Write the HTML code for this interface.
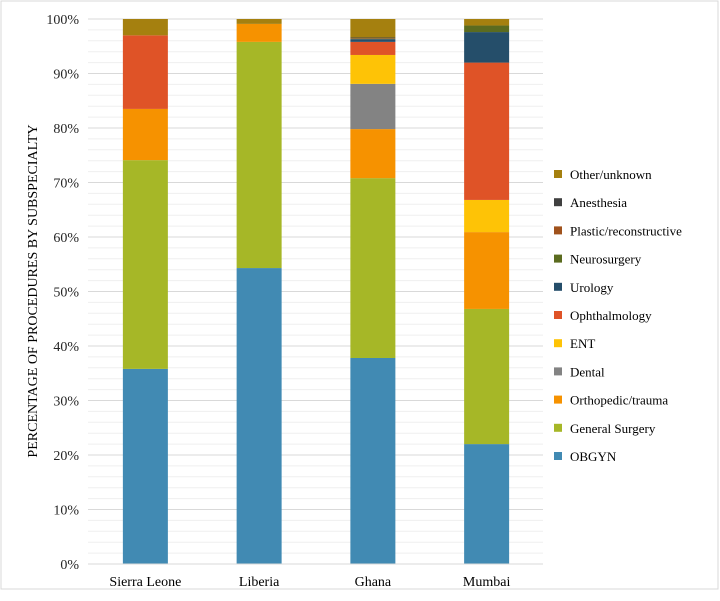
<!DOCTYPE html>
<html><head><meta charset="utf-8"><style>
body{margin:0;background:#fff;}
svg{display:block;font-family:"Liberation Serif",serif;}
</style></head><body>
<svg id="chart" width="720" height="601">
<rect x="1" y="1" width="717" height="588" fill="#fff" stroke="#d9d9d9"/>
<g id="grid"></g><g id="bars"></g><g id="axis"></g><g id="legend"></g>
<text transform="translate(37,291) rotate(-90)" text-anchor="middle" font-size="14" fill="#000">PERCENTAGE OF PROCEDURES BY SUBSPECIALTY</text>
</svg>
<script>
const categories=["Sierra Leone","Liberia","Ghana","Mumbai"];
const seriesNames=["OBGYN","General Surgery","Orthopedic/trauma","Dental","ENT","Ophthalmology","Urology","Neurosurgery","Plastic/reconstructive","Anesthesia","Other/unknown"];
const colors=["#418ab3","#a6b727","#f69200","#838383","#fec306","#df5327","#254e6a","#5b6b1f","#a0521c","#404040","#a5800f"];
const obgyn=[35.8,54.3,37.8,22.0];
const generalSurgery=[38.3,41.5,33.0,24.8];
const ortho=[9.4,3.3,9.0,14.1];
const dental=[0,0,8.3,0];
const ent=[0,0,5.3,5.9];
const ophth=[13.5,0,2.4,25.2];
const urology=[0,0,0.5,5.6];
const neuro=[0,0,0.1,1.2];
const plastic=[0,0,0.1,0];
const anesth=[0,0,0.1,0];
const other=[3.0,0.9,3.4,1.2];
const series=[obgyn,generalSurgery,ortho,dental,ent,ophth,urology,neuro,plastic,anesth,other];
const yTicks=[0,10,20,30,40,50,60,70,80,90,100];
const NS="http://www.w3.org/2000/svg";
const x0=88,x1=543,y0=564,y100=19;
const y=v=>y0-(v/100)*(y0-y100);
const band=(x1-x0)/categories.length;
const bw=45;
function mk(tag,attrs,parent){const e=document.createElementNS(NS,tag);for(const k in attrs)e.setAttribute(k,attrs[k]);parent.appendChild(e);return e;}
const grid=document.getElementById('grid'),bars=document.getElementById('bars'),axis=document.getElementById('axis'),legend=document.getElementById('legend');
for(let v=2;v<=100;v+=2){
  const major=v%10===0;
  const l=mk('line',{x1:x0,x2:x1,y1:y(v),y2:y(v),stroke:major?'#d9d9d9':'#efefef','stroke-width':1},grid);
  
  
}
yTicks.forEach(t=>{
  const tx=mk('text',{x:79,y:y(t)+5,'text-anchor':'end','font-size':14,fill:'#262626'},axis);
  tx.textContent=t+'%';
  
  
});
const ax=mk('line',{x1:x0,x2:x1,y1:y0,y2:y0,stroke:'#d9d9d9','stroke-width':1},axis);


categories.forEach((c,i)=>{
  const cx=x0+band*(i+0.5)+0.5;
  let cum=0;
  series.forEach((s,j)=>{
    const v=s[i];if(!v)return;
    const r=mk('rect',{x:cx-bw/2,y:y(cum+v),width:bw,height:y(cum)-y(cum+v),fill:colors[j]},bars);
    
    
    cum+=v;
  });
  const t=mk('text',{x:cx,y:586,'text-anchor':'middle','font-size':14,fill:'#000'},axis);
  t.textContent=c;
  
  
});
for(let j=seriesNames.length-1;j>=0;j--){
  const k=seriesNames.length-1-j;
  const ly=174+k*28.2;
  const g=mk('g',{},legend);
  
  
  mk('rect',{x:554,y:ly-4,width:8,height:8,fill:colors[j]},g);
  const t=mk('text',{x:570,y:ly+5,'font-size':13,fill:'#000'},g);
  t.textContent=seriesNames[j];
}
</script>
</body></html>
